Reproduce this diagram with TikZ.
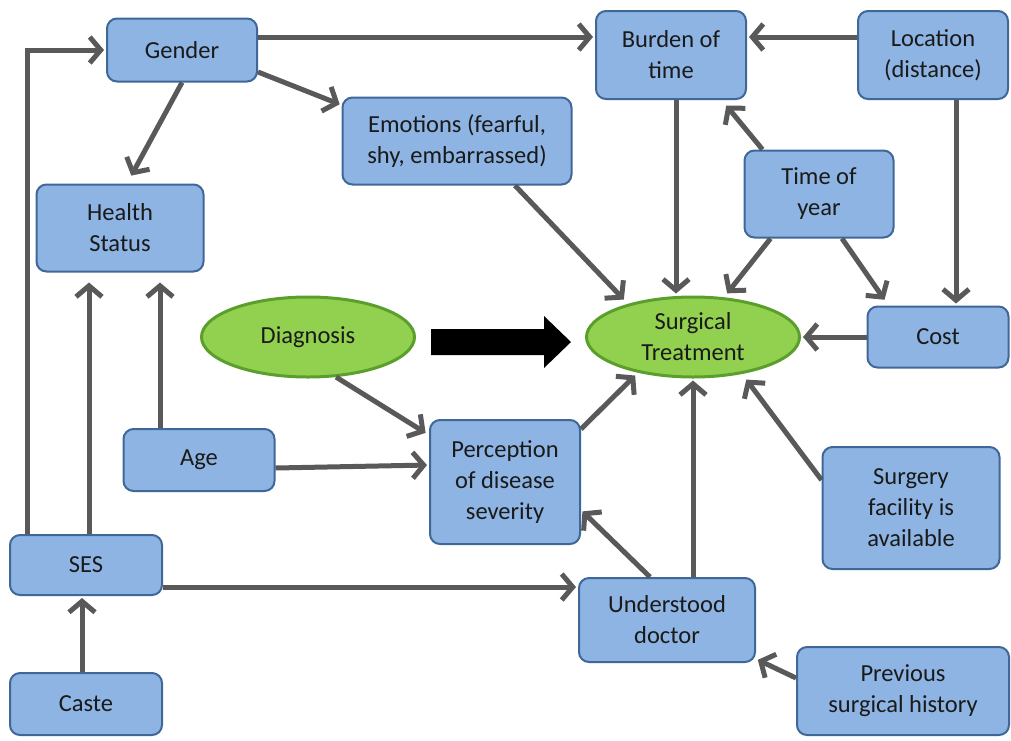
\documentclass[tikz,border=0pt]{standalone}
\usepackage{fontspec}
\setmainfont{Carlito}
\usetikzlibrary{arrows.meta,shapes.geometric,calc}
\definecolor{boxfill}{HTML}{8DB4E2}
\definecolor{boxborder}{HTML}{3F6797}
\definecolor{greenfill}{HTML}{92D050}
\definecolor{greenborder}{HTML}{5A9E2C}
\definecolor{arrowgray}{HTML}{595959}
\definecolor{txt}{HTML}{1A1A1A}
\tikzset{
  box/.style={draw=boxborder, fill=boxfill, rounded corners=10pt, line width=2pt,
    align=center, inner sep=0pt, text=txt, font=\fontsize{24.5}{31}\selectfont},
  oval/.style={ellipse, draw=greenborder, fill=greenfill, line width=3pt,
    align=center, inner sep=0pt, text=txt, font=\fontsize{24.5}{31}\selectfont},
  arr/.style={draw=arrowgray, line width=5pt, -{Straight Barb[length=11pt,width=26pt]}, shorten >=2pt},
}
\begin{document}
\begin{tikzpicture}[x=1pt,y=-1pt]
\useasboundingbox (0,0) rectangle (1011,740);
% nodes
\node[box, minimum width=150pt, minimum height=63pt] (gender) at (182,50) {Gender};
\node[box, minimum width=150pt, minimum height=88pt] (burden) at (671,55) {Burden of\\time};
\node[box, minimum width=150pt, minimum height=88pt] (location) at (933,55) {Location\\(distance)};
\node[box, minimum width=229pt, minimum height=87pt] (emotions) at (457,141) {Emotions (fearful,\\shy, embarrassed)};
\node[box, minimum width=149pt, minimum height=87pt] (timeyear) at (819,194) {Time of\\year};
\node[box, minimum width=167pt, minimum height=87pt] (health) at (120,228) {Health\\Status};
\node[oval, minimum width=213pt, minimum height=80pt] (diagnosis) at (308,337) {Diagnosis};
\node[oval, minimum width=213pt, minimum height=80pt] (surgical) at (693,337) {Surgical\\Treatment};
\node[box, minimum width=141pt, minimum height=61pt] (cost) at (938,337) {Cost};
\node[box, minimum width=151pt, minimum height=62pt] (age) at (199,460) {Age};
\node[box, minimum width=150pt, minimum height=124pt] (perception) at (505,482) {Perception\\of disease\\severity};
\node[box, minimum width=177pt, minimum height=122pt] (facility) at (911,508) {Surgery\\facility is\\available};
\node[box, minimum width=152pt, minimum height=60pt] (ses) at (86,565) {SES};
\node[box, minimum width=176pt, minimum height=84pt] (understood) at (667,620) {Understood\\doctor};
\node[box, minimum width=152pt, minimum height=62pt] (caste) at (86,704) {Caste};
\node[box, minimum width=212pt, minimum height=88pt] (previous) at (903,691) {Previous\\surgical history};
% big black arrow
\fill[black] (431,329) -- (544,329) -- (544,316) -- (571,342) -- (544,368) -- (544,355) -- (431,355) -- cycle;
% connectors
\draw[arr] ([xshift=18pt]ses.north west) |- (gender.west);
\draw[arr] ([yshift=13pt]gender.east) -- ([yshift=13pt]gender.east -| burden.west);
\draw[arr] ([yshift=18pt]location.west) -- ([yshift=18pt]location.west -| burden.east);
\draw[arr] ([yshift=-22pt]gender.east) -- ([yshift=36pt]emotions.west);
\draw[arr, shorten >=9pt] (gender.south) -- ([xshift=7pt]health.north);
\draw[arr] ([xshift=5pt]burden.south) -- ([xshift=5pt]burden.south |- surgical.north);
\draw[arr] ([xshift=23pt]location.south) -- ([xshift=23pt]location.south |- cost.north);
\draw[arr] ([xshift=19pt]timeyear.north west) -- ([xshift=-22pt,yshift=-4pt]burden.south east);
\draw[arr, shorten >=5pt] ([xshift=27pt]timeyear.south west) -- (surgical.52);
\draw[arr, shorten >=7pt] ([xshift=23pt]timeyear.south) -- ([xshift=22pt]cost.north west);
\draw[arr, shorten >=6pt] ([xshift=58pt]emotions.south) -- (surgical.153);
\draw[arr] (cost.west) -- (surgical.east);
\draw[arr, shorten >=4pt] (diagnosis.305) -- ([yshift=47pt]perception.west);
\draw[arr] ([yshift=-8pt]age.east) -- ([yshift=17pt]perception.west);
\draw[arr, shorten >=10pt] ([xshift=-39pt]age.north) -- ([xshift=-39pt]age.north |- health.south);
\draw[arr, shorten >=10pt] ([xshift=3pt]ses.north) -- ([xshift=3pt]ses.north |- health.south);
\draw[arr] ([xshift=-4pt]caste.north) -- ([xshift=-4pt]caste.north |- ses.south);
\draw[arr] ([yshift=-22pt]ses.east) -- ([yshift=-22pt]ses.east -| understood.west);
\draw[arr, shorten >=4pt] ([yshift=-10pt]perception.north east) -- (surgical.213);
\draw[arr] ([xshift=26pt]understood.north) -- ([xshift=26pt]understood.north |- surgical.south);
\draw[arr] ([xshift=-17pt]understood.north) -- ([yshift=-28pt]perception.east);
\draw[arr, shorten >=7pt] ([yshift=28pt]facility.west) -- (surgical.323);
\draw[arr] ([yshift=13pt]previous.west) -- ([yshift=4pt]understood.south east);
\end{tikzpicture}
\end{document}
